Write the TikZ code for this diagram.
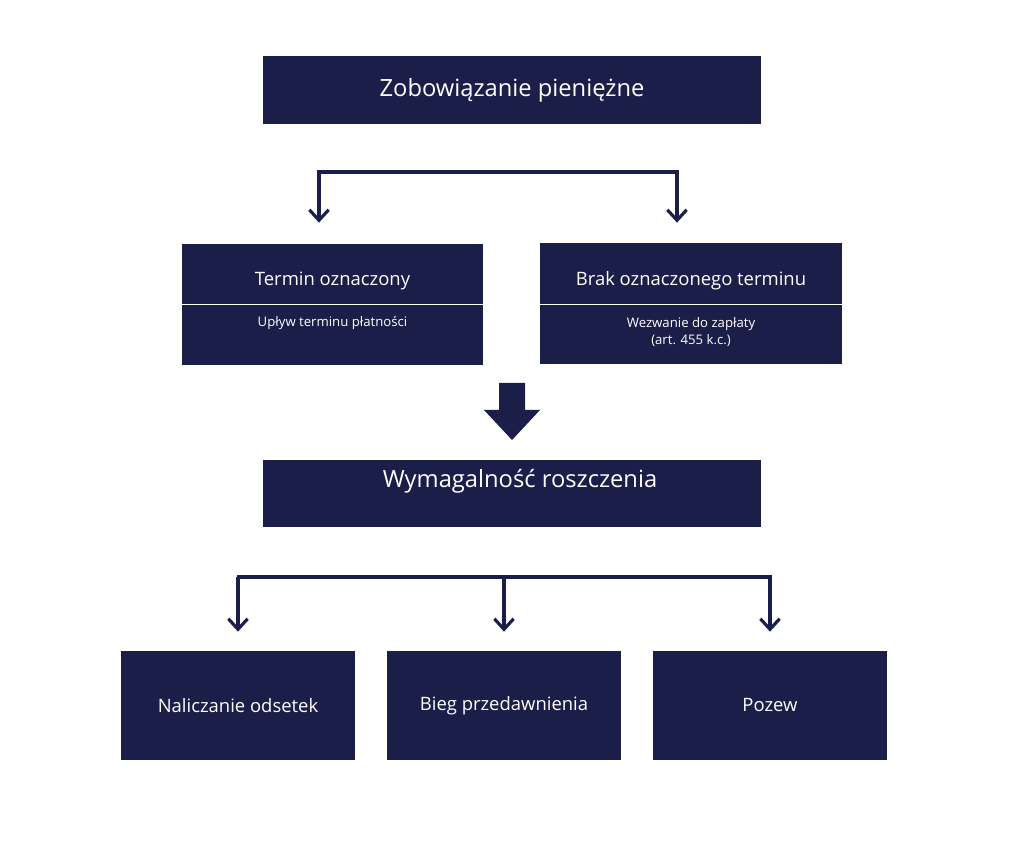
\documentclass[tikz,border=0pt]{standalone}
\usepackage{fontspec}
\setmainfont{Open Sans}
\usetikzlibrary{arrows.meta,positioning}
\definecolor{navy}{HTML}{1C1E4A}
\tikzset{
  box/.style={fill=navy, text=white, inner sep=0pt},
  link/.style={navy, line width=1.8pt, -{Straight Barb[length=6pt,width=11pt]}},
}
\begin{document}
\begin{tikzpicture}
    \useasboundingbox (0,0) rectangle (20.48,-17.18);
    % Top level
    \node[box, minimum width=9.96cm, minimum height=1.36cm, font=\fontsize{13.5}{16}\selectfont] (obl) at (10.24,-1.80) {Zobowiązanie pieniężne};

    % Two cases
    \node[box, minimum width=6.02cm, minimum height=2.42cm] (fixed) at (6.65,-6.09) {};
    \node[box, minimum width=6.04cm, minimum height=2.42cm] (nofix) at (13.82,-6.07) {};
    \draw[white, line width=0.5pt] (fixed.west |- 0,-6.08) -- (fixed.east |- 0,-6.08);
    \draw[white, line width=0.5pt] (nofix.west |- 0,-6.08) -- (nofix.east |- 0,-6.08);
    \node[text=white, font=\fontsize{10.5}{13}\selectfont] (fixedt) at (6.65,-5.62) {Termin oznaczony};
    \node[text=white, font=\fontsize{7.5}{9}\selectfont] (fixeds) at (6.65,-6.46) {Upływ terminu płatności};
    \node[text=white, font=\fontsize{10.5}{13}\selectfont] (nofixt) at (13.82,-5.62) {Brak oznaczonego terminu};
    \node[text=white, align=center, font=\fontsize{7.5}{10}\selectfont] (nofixs) at (13.82,-6.64) {Wezwanie do zapłaty\\(art. 455 k.c.)};

    \coordinate (split) at (10.24,-3.44);
    \draw[link] (split) -| ([xshift=-0.27cm, yshift=0.42cm]fixed.north);
    \draw[link] (split) -| ([xshift=-0.28cm, yshift=0.40cm]nofix.north);

    % Big arrow
    \fill[navy] (9.98,-7.66) -- (10.50,-7.66) -- (10.50,-8.20) -- (10.80,-8.20)
        -- (10.24,-8.80) -- (9.68,-8.20) -- (9.98,-8.20) -- cycle;

    % Claim due
    \node[box, minimum width=9.96cm, minimum height=1.34cm] (due) at (10.24,-9.87) {};
    \node[text=white, font=\fontsize{13.5}{16}\selectfont] (duet) at (10.40,-9.62) {Wymagalność roszczenia};

    % Consequences
    \node[box, minimum width=4.68cm, minimum height=2.18cm, font=\fontsize{10.5}{13}\selectfont] (int) at (4.76,-14.11) {Naliczanie odsetek};
    \node[box, minimum width=4.68cm, minimum height=2.18cm, font=\fontsize{10.5}{13}\selectfont] (lim) at (10.08,-14.11) {Bieg przedawnienia};
    \node[box, minimum width=4.68cm, minimum height=2.18cm, font=\fontsize{10.5}{13}\selectfont] (suit) at (15.40,-14.11) {Pozew};

    \coordinate (fork) at (10.08,-11.54);
    \draw[navy, line width=1.8pt] ([xshift=-0.03cm]fork -| int) -- ([xshift=0.03cm]fork -| suit);
    \draw[link] (fork -| int) -- ([yshift=0.38cm]int.north);
    \draw[link] (fork) -- ([yshift=0.38cm]lim.north);
    \draw[link] (fork -| suit) -- ([yshift=0.38cm]suit.north);
\end{tikzpicture}
\end{document}
